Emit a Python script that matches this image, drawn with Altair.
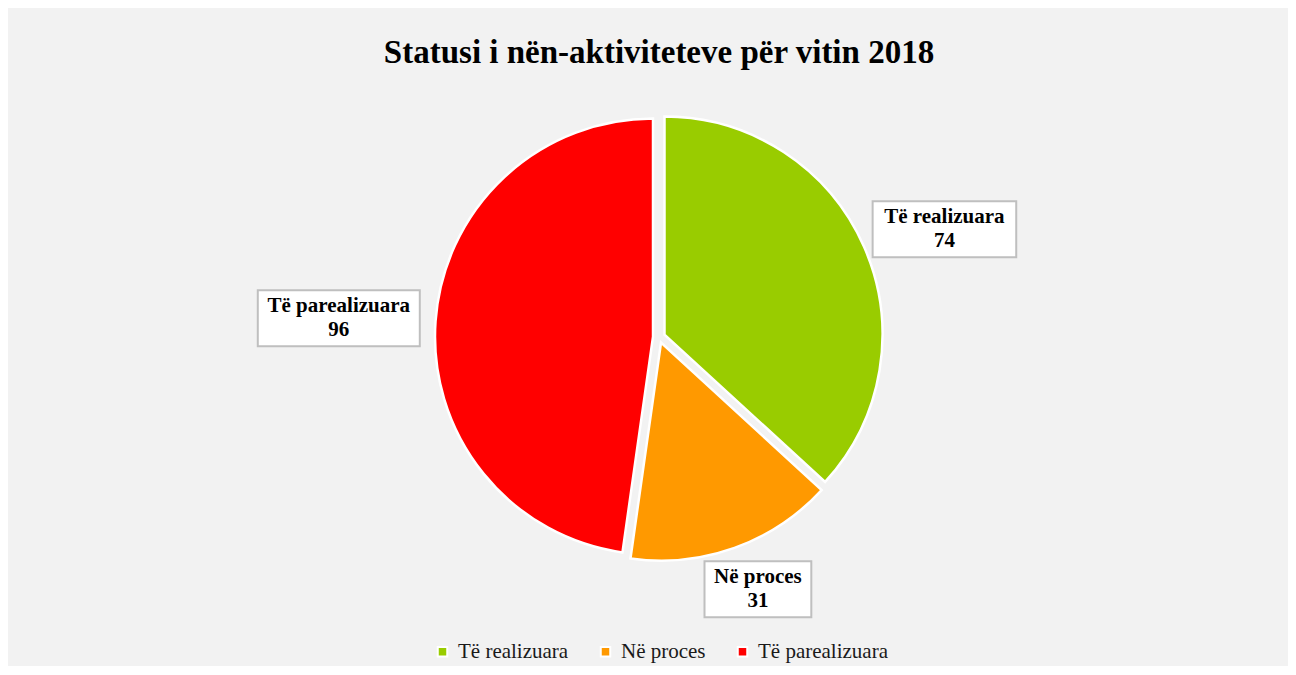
import math
import altair as alt
import pandas as pd

# ---- data ----
categories = ["Të realizuara", "Në proces", "Të parealizuara"]
values = [74, 31, 96]
colors = ["#99cc00", "#ff9900", "#ff0000"]
title_text = "Statusi i nën-aktiviteteve për vitin 2018"

# ---- layout / style ----
W, H = 1258, 658
R = 218          # pie radius
EXPLODE = 6      # slice explosion distance
GAP = 22         # gap between pie and label boxes
HH = 28          # label box half height
SERIF = "Liberation Serif"

df = pd.DataFrame({
    "category": categories,
    "value": values,
    "order": list(range(len(categories))),
})
total = sum(values)

cx, cy = W / 2, H / 2

base = (
    alt.Chart(df)
    .transform_joinaggregate(total="sum(value)")
    .transform_window(cum="sum(value)", sort=[alt.SortField("order")], frame=[None, 0])
    .transform_calculate(
        start="datum.cum - datum.value",
        mid="(datum.cum - datum.value / 2) / datum.total * 2 * PI",
        hw="4.6 * length(datum.category) + 12",
        dx=f"{EXPLODE} * sin(datum.mid)",
        dy=f"-{EXPLODE} * cos(datum.mid)",
        lx=f"{cx} + ({R + GAP} + datum.hw) * sin(datum.mid)",
        ly=f"{cy} - ({R + GAP} + {HH}) * cos(datum.mid)",
        label="datum.category + '\\n' + datum.value",
        box=f"'M' + (-datum.hw) + ',-{HH}H' + datum.hw + 'V{HH}H' + (-datum.hw) + 'Z'",
    )
)

theta_scale = alt.Scale(domain=[0, total], range=[0, 2 * math.pi])

arcs = base.mark_arc(stroke="white", strokeWidth=2.5, outerRadius=R).encode(
    theta=alt.Theta("start:Q", scale=theta_scale),
    theta2=alt.Theta2("cum:Q"),
    color=alt.Color(
        "category:N",
        scale=alt.Scale(domain=categories, range=colors),
        legend=alt.Legend(
            title=None,
            orient="none",
            legendX=402,
            legendY=633,
            direction="horizontal",
            symbolType="square",
            symbolSize=90,
            symbolStrokeColor="white",
            symbolStrokeWidth=2,
            labelFont=SERIF,
            labelFontSize=21,
            labelColor="#1a1a1a",
            labelOffset=5,
            columnPadding=26,
        ),
    ),
    xOffset=alt.XOffset("dx:Q", scale=None),
    yOffset=alt.YOffset("dy:Q", scale=None),
)

boxes = base.mark_point(
    filled=True, fill="white", stroke="#bfbfbf", strokeWidth=2, size=4, opacity=1
).encode(
    x=alt.X("lx:Q", scale=None),
    y=alt.Y("ly:Q", scale=None),
    shape=alt.Shape("box:N", scale=None, legend=None),
)

texts = base.mark_text(
    font=SERIF, fontSize=21, fontWeight="bold", lineBreak="\n", lineHeight=24,
    color="black", baseline="middle", align="center", dy=-12,
).encode(
    x=alt.X("lx:Q", scale=None),
    y=alt.Y("ly:Q", scale=None),
    text="label:N",
)

chart = (
    alt.layer(arcs, boxes, texts)
    .properties(
        width=W,
        height=H,
        padding={"left": 22, "right": 0, "top": 0, "bottom": 0},
        background="#f2f2f2",
        title=alt.TitleParams(
            title_text,
            font=SERIF,
            fontSize=33,
            fontWeight="bold",
            color="black",
            anchor="middle",
            offset=-62,
        ),
    )
    .configure_view(stroke=None)
)

chart.save("out.html", embed_options={"renderer": "svg", "actions": False})
